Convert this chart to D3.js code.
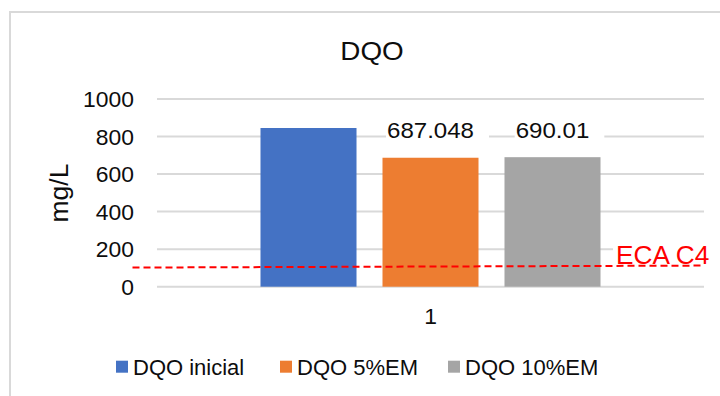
<!DOCTYPE html>
<html>
<head>
<meta charset="utf-8">
<script src="https://cdn.jsdelivr.net/npm/d3@7"></script>
<style>
  html, body { margin: 0; padding: 0; background: #fff; }
  svg { display: block; font-family: "Liberation Sans", Arial, sans-serif; }
</style>
</head>
<body>
<svg id="chart" width="720" height="396"></svg>
<script>
// Chart data
const categories = ["1"];
const seriesNames = ["DQO inicial", "DQO 5%EM", "DQO 10%EM"];
const seriesValues = [845.5, 687.048, 690.01];
const seriesLabels = [null, "687.048", "690.01"];
const seriesColors = ["#4472c4", "#ed7d31", "#a5a5a5"];
const yTicks = [0, 200, 400, 600, 800, 1000];
const ecaLevels = [102, 112.5];   // reference line, left and right ends
const ecaLabel = "ECA C4";
const titleText = "DQO";
const yAxisTitle = "mg/L";

const svg = d3.select("#chart");
const plot = { left: 157, right: 704, top: 99, bottom: 286.7 };
const textColor = "#0d0d0d";
const gridColor = "#d9d9d9";

// Outer frame of the chart area
svg.append("rect")
  .attr("x", 10).attr("y", 12)
  .attr("width", 760).attr("height", 420)
  .attr("fill", "#fff")
  .attr("stroke", gridColor).attr("stroke-width", 2);

// Helper: text stretched slightly horizontally around its anchor
function stretchedText(parent, x, y, str, size, anchor, sx, color) {
  return parent.append("text")
    .attr("transform", `translate(${x},${y}) scale(${sx},1)`)
    .attr("text-anchor", anchor)
    .attr("font-size", size)
    .attr("fill", color || textColor)
    .text(str);
}

const y = d3.scaleLinear().domain([0, 1000]).range([plot.bottom, plot.top]);
const x0 = d3.scaleBand().domain(categories).range([plot.left, plot.right])
  .paddingInner(0).paddingOuter(0.3044);
const x1 = d3.scaleBand().domain(seriesNames).range([0, x0.bandwidth()])
  .paddingInner(0.213).paddingOuter(0);

// Gridlines
svg.append("g").selectAll("line").data(yTicks).join("line")
  .attr("x1", plot.left).attr("x2", plot.right)
  .attr("y1", d => y(d)).attr("y2", d => y(d))
  .attr("stroke", gridColor).attr("stroke-width", 2);

// Y tick labels
const yAxisG = svg.append("g");
yTicks.forEach(t => {
  stretchedText(yAxisG, 134, y(t) + 8, String(t), 22, "end", 1.04);
});

// Y axis title
svg.append("text")
  .attr("transform", `translate(67.5,193) rotate(-90)`)
  .attr("text-anchor", "middle")
  .attr("font-size", 26.5)
  .attr("fill", textColor)
  .text(yAxisTitle);

// Title
stretchedText(svg, 372, 59.5, titleText, 26.5, "middle", 1.05);

// Bars
const barsG = svg.append("g");
categories.forEach(cat => {
  seriesNames.forEach((name, i) => {
    barsG.append("rect")
      .attr("x", x0(cat) + x1(name))
      .attr("y", y(seriesValues[i]))
      .attr("width", x1.bandwidth())
      .attr("height", y(0) - y(seriesValues[i]))
      .attr("fill", seriesColors[i]);
  });
});

// Category label
stretchedText(svg, x0(categories[0]) + x0.bandwidth() / 2, 323.5, categories[0], 22, "middle", 1.04);

// Data labels with white boxes behind them
const labelsG = svg.append("g");
seriesNames.forEach((name, i) => {
  if (!seriesLabels[i]) return;
  const cx = x0(categories[0]) + x1(name) + x1.bandwidth() / 2;
  const g = labelsG.append("g");
  const bg = g.append("rect").attr("fill", "#fff");
  const t = stretchedText(g, cx, 137.7, seriesLabels[i], 22.5, "middle", 1.07);
  const w = t.node().getComputedTextLength() * 1.07;
  bg.attr("x", cx - w / 2 - 1).attr("y", 118).attr("width", w + 16).attr("height", 23);
});

// ECA C4 reference line
const ecaLeft = plot.left - 24.5;
const ecaRight = plot.right - 1;
svg.append("line")
  .attr("x1", ecaLeft).attr("x2", ecaRight)
  .attr("y1", y(ecaLevels[0])).attr("y2", y(ecaLevels[1]))
  .attr("stroke", "#ff0000").attr("stroke-width", 2)
  .attr("stroke-dasharray", "7,4");

// ECA C4 label
svg.append("rect").attr("x", 613).attr("y", 245).attr("width", 100).attr("height", 17).attr("fill", "#fff");
stretchedText(svg, 616, 263.5, ecaLabel, 25, "start", 1.05, "#ff0000");

// Legend
const legendX = [116, 280, 448];
const legendG = svg.append("g");
seriesNames.forEach((name, i) => {
  legendG.append("rect")
    .attr("x", legendX[i]).attr("y", 360.7)
    .attr("width", 12).attr("height", 12)
    .attr("fill", seriesColors[i]);
  legendG.append("text")
    .attr("x", legendX[i] + 17).attr("y", 375.3)
    .attr("font-size", 22)
    .attr("fill", textColor)
    .text(name);
});
</script>
</body>
</html>
